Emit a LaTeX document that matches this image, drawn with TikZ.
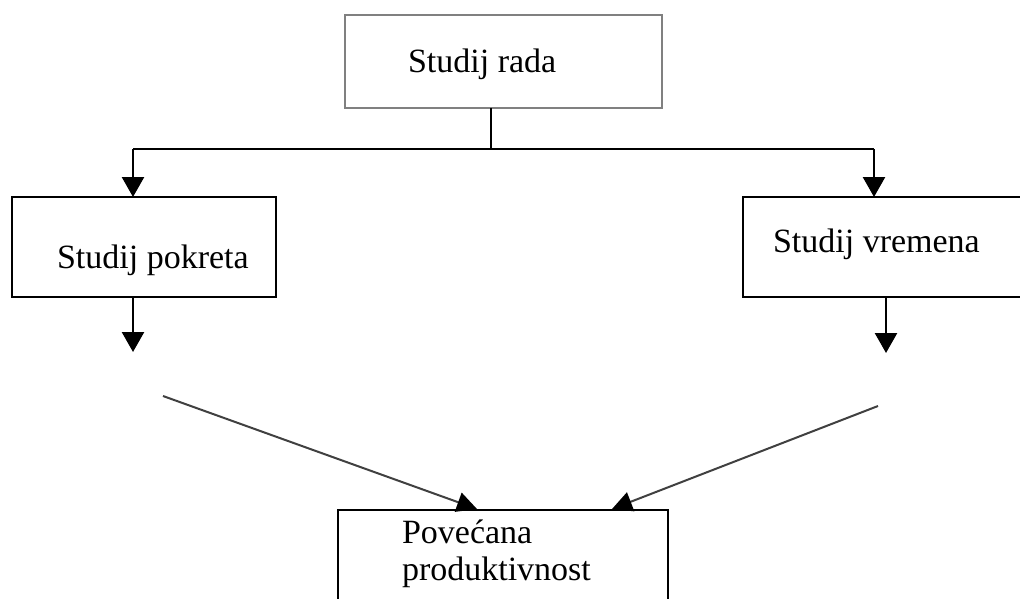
\documentclass[tikz,border=0pt]{standalone}
\usepackage{fontspec}
\setmainfont{Liberation Serif}
\usetikzlibrary{arrows.meta}
\begin{document}
\begin{tikzpicture}[x=0.75pt,y=-0.75pt,
  boxbase/.style={rectangle, inner sep=0pt, outer sep=0pt},
  graybox/.style={boxbase, draw=black!50, line width=2.2pt},
  blackbox/.style={boxbase, draw=black, line width=2.1pt},
  lbl/.style={inner sep=0pt, outer sep=0pt, anchor=base west, font=\fontsize{25.5pt}{27.75pt}\selectfont},
  conn/.style={draw=black, line width=1.9pt},
  arr/.style={conn, -{Triangle[length=15pt,width=16.5pt]}},
  diag/.style={draw=black!75, line width=1.5pt, -{Triangle[length=15pt,width=15pt,fill=black,color=black]}}
]
\useasboundingbox (0,0) rectangle (1020,599);

% boxes
\node[graybox, minimum width=237.75pt, minimum height=69.75pt] (top) at (503.5,61.5) {};
\node[blackbox, minimum width=198pt, minimum height=75pt] (left) at (144,247) {};
\node[blackbox, minimum width=210.75pt, minimum height=75pt] (right) at (883.5,247) {};
\node[blackbox, minimum width=247.5pt, minimum height=76.5pt] (bottom) at (503,561) {};

% texts
\node[lbl] (ttop) at (408,73) {Studij rada};
\node[lbl] (tleft) at (57,268) {Studij pokreta};
\node[lbl] (tright) at (773,252) {Studij vremena};
\node[lbl] (tbot1) at (402,543) {Povećana};
\node[lbl] (tbot2) at (402,580) {produktivnost};

% junctions and free ends
\coordinate (j) at (491,149);
\coordinate (jl) at (133,149);
\coordinate (jr) at (874,149);
\coordinate (dl) at (133,352);
\coordinate (dr) at (886,353);
\coordinate (sl) at (163,396);
\coordinate (sr) at (878,406);
\coordinate (el) at (477,509);
\coordinate (er) at (612,509);

% connectors
\draw[conn] (top.south -| j) -- (j);
\draw[conn] (jl) -- (jr);
\draw[arr] (jl) -- (jl |- left.north);
\draw[arr] (jr) -- (jr |- right.north);
\draw[arr] (left.south -| dl) -- (dl);
\draw[arr] (right.south -| dr) -- (dr);
\draw[diag] (sl) -- (el);
\draw[diag] (sr) -- (er);
\end{tikzpicture}
\end{document}
